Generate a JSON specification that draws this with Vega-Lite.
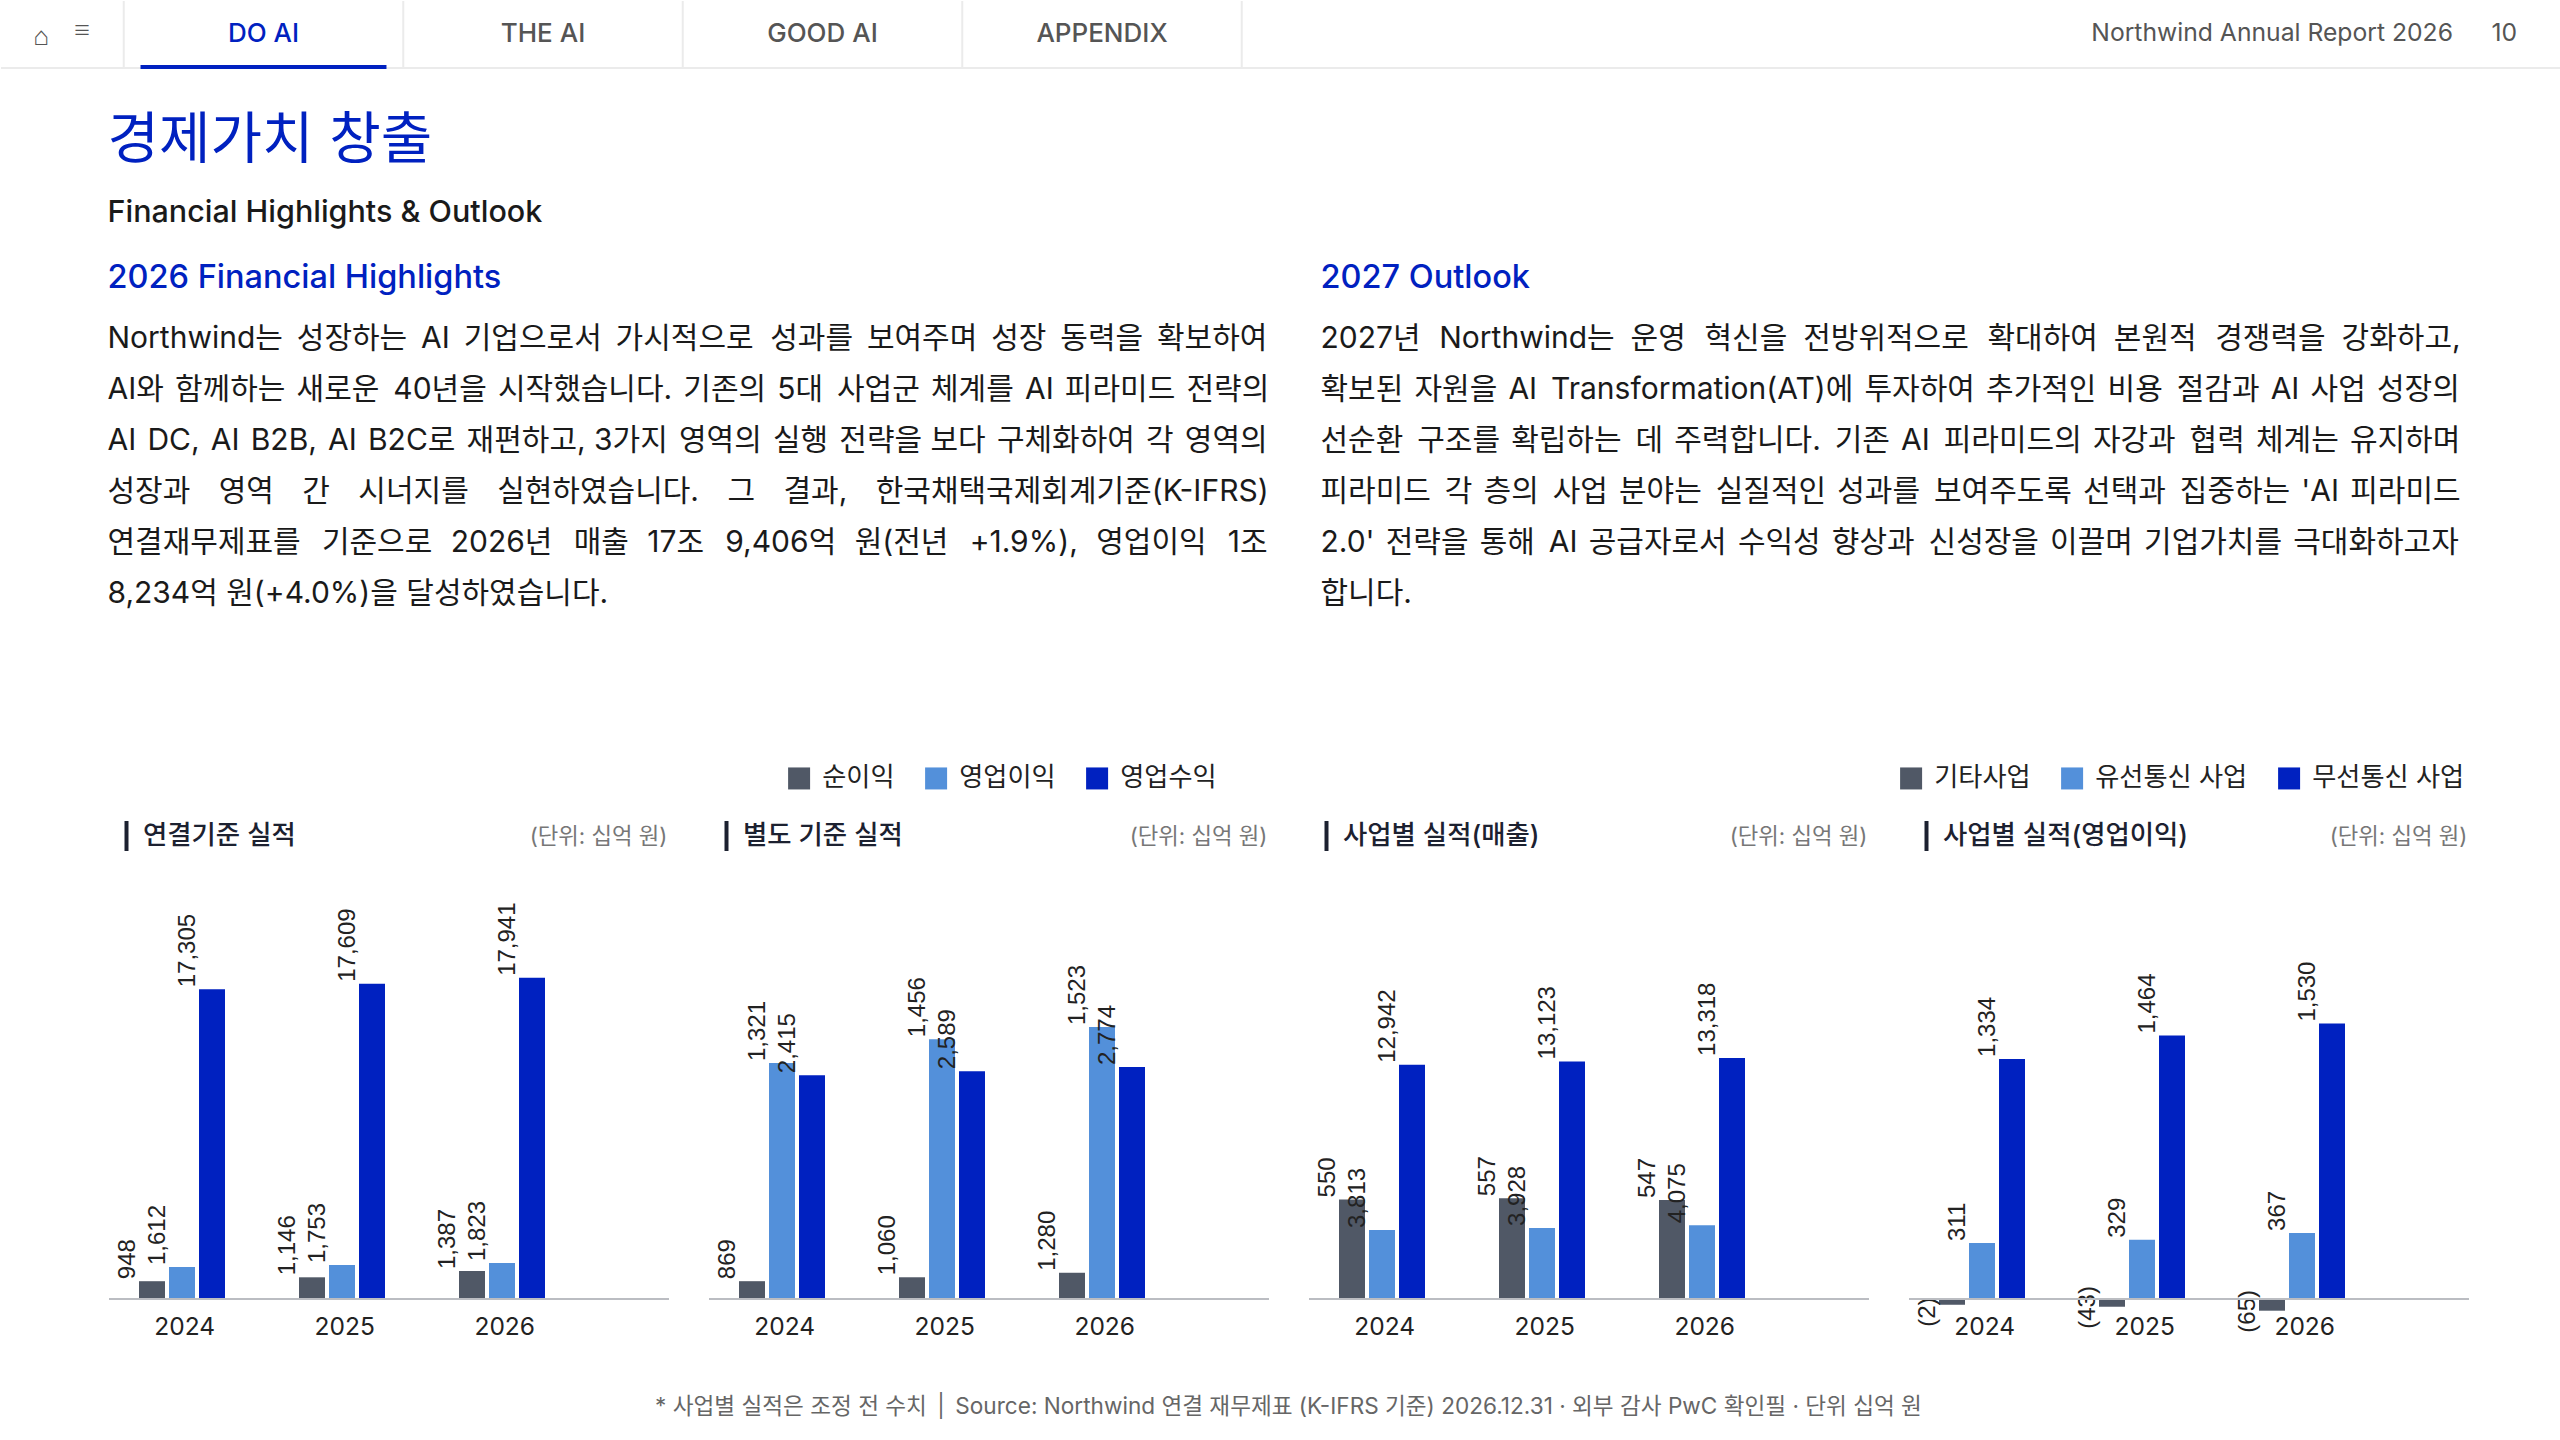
{
"$schema":"https://vega.github.io/schema/vega-lite/v6.json",
"padding":0,"spacing":0,"bounds":"flush","background":"#ffffff",
"config":{"view":{"stroke":null},"font":"Inter, 'Noto Sans CJK KR', sans-serif"},
"vconcat":[
{"width":2560,"height":66,
 "layer":[
  {"data":{"values":[{"edge":0.5},{"edge":1.5},{"edge":2.5},{"edge":3.5},{"edge":4.5}]},
   "mark":{"type":"rule","color":"#ebebeb","strokeWidth":2},
   "encoding":{"x":{"field":"edge","type":"quantitative","scale":{"domain":[0,5],"range":[-17,1380.5]},"axis":null}}},
  {"data":{"values":[{"bar":"nav"}]},
   "mark":{"type":"rule","color":"#ebebeb","strokeWidth":2,"yOffset":1},
   "encoding":{"y":{"datum":0,"type":"quantitative","scale":{"domain":[0,1]},"axis":null}}},
  {"data":{"values":[{"tab":"DO AI"}]},
   "mark":{"type":"rule","color":"#0021C0","strokeWidth":4},
   "encoding":{"x":{"datum":0.56,"type":"quantitative","scale":{"domain":[0,5],"range":[-17,1380.5]},"axis":null},"x2":{"datum":1.44},"y":{"datum":0,"type":"quantitative","scale":{"domain":[0,1]},"axis":null}}},
  {"data":{"values":[{"tab":"DO AI","slot":1},{"tab":"THE AI","slot":2},{"tab":"GOOD AI","slot":3},{"tab":"APPENDIX","slot":4}]},
   "mark":{"type":"text","fontSize":26,"fontWeight":500,"align":"center","baseline":"middle","dy":0},
   "encoding":{"x":{"field":"slot","type":"quantitative","scale":{"domain":[0,5],"range":[-17,1380.5]},"axis":null},"text":{"field":"tab"},
    "color":{"condition":{"test":"datum.slot===1","value":"#0021C0"},"value":"#555555"}}},
  {"data":{"values":[{"item":"home","glyph":"⌂"}]},
   "mark":{"type":"text","fontSize":26,"align":"center","baseline":"middle","color":"#555555","dy":3},
   "encoding":{"x":{"field":"item","type":"nominal","scale":{"type":"point","domain":["home","menu"],"range":[40,81],"padding":0},"axis":null},"text":{"field":"glyph"}}},
  {"data":{"values":[{"item":"menu","glyph":"≡"}]},
   "mark":{"type":"text","fontSize":18,"align":"center","baseline":"middle","color":"#555555","dy":-2},
   "encoding":{"x":{"field":"item","type":"nominal","scale":{"type":"point","domain":["home","menu"],"range":[40,81],"padding":0},"axis":null},"text":{"field":"glyph"}}},
  {"data":{"values":[{"item":"report","text":"Northwind Annual Report 2026"},{"item":"page","text":"10"}]},
   "mark":{"type":"text","fontSize":24.7,"align":"right","baseline":"middle","color":"#555555"},
   "encoding":{"x":{"field":"item","type":"nominal","scale":{"type":"point","domain":["report","page"],"range":[2452,2516],"padding":0},"axis":null},"text":{"field":"text"}}}
 ],
 "resolve":{"scale":{"x":"independent","y":"independent"}}
},
{"width":2560,"height":754,
 "encoding":{"x":{"field":"col","type":"quantitative","scale":{"domain":[0,1],"range":[106.5,1319.5]},"axis":null}},
 "layer":[
  {"data":{"values":[{"role":"title","col":0,"text":"경제가치 창출"},{"role":"sub","col":0,"text":"Financial Highlights & Outlook"},{"role":"head","col":0,"text":"2026 Financial Highlights"},{"role":"head","col":1,"text":"2027 Outlook"}]},
   "encoding":{"y":{"field":"role","type":"nominal","scale":{"type":"point","domain":["title","sub","head"],"range":[91,221],"padding":0},"axis":null},"text":{"field":"text"}},
   "layer":[
    {"transform":[{"filter":"datum.role==='title'"}],"mark":{"type":"text","fontSize":56,"fontWeight":400,"align":"left","baseline":"alphabetic","color":"#0021C0"}},
    {"transform":[{"filter":"datum.role==='sub'"}],"mark":{"type":"text","fontSize":30.5,"fontWeight":500,"align":"left","baseline":"alphabetic","color":"#1a1a1a","dy":-1}},
    {"transform":[{"filter":"datum.role==='head'"}],"mark":{"type":"text","fontSize":32.5,"fontWeight":500,"align":"left","baseline":"alphabetic","color":"#0021C0"}}
   ]},
  {"data":{"values":[
    {"col":0,"line":1,"text":"Northwind는 \u2009성장하는 \u2009AI \u2009기업으로서 \u2009가시적으로 \u2009\u200A성과를 \u2009보여주며 \u2009성장 \u2009동력을 \u2009확보하여"},
    {"col":0,"line":2,"text":"AI와 \u200A함께하는 \u200A새로운 \u200A\u200A40년을 \u200A시작했습니다. \u200A기존의 \u200A5대 \u200A\u200A사업군 \u200A체계를 \u200AAI \u200A피라미드 \u200A전략의"},
    {"col":0,"line":3,"text":"AI \u200ADC, \u200AAI \u200AB2B, \u200AAI \u200AB2C로 \u200A재편하고, 3가지 \u200A영역의 \u200A실행 \u200A전략을 보다 \u200A구체화하여 \u200A각 \u200A영역의"},
    {"col":0,"line":4,"text":"성장과 \u2002\u2006영역 \u2002\u2006간 \u2002\u2006시너지를 \u2002\u2006실현하였습니다. \u2002\u2006그 \u2002\u2006결과, \u2002\u2006한국채택국제회계기준(K-IFRS)"},
    {"col":0,"line":5,"text":"연결재무제표를 \u2004\u200A기준으로 \u20042026년 \u2004\u200A매출 \u200417조 \u2004\u200A9,406억 \u2004원(전년 \u2004\u200A+1.9%), \u2004영업이익 \u2004\u200A1조"},
    {"col":0,"line":6,"text":"8,234억 원(+4.0%)을 달성하였습니다."},
    {"col":1,"line":1,"text":"2027년 \u2005\u200ANorthwind는 \u2005운영 \u2005\u200A혁신을 \u2005전방위적으로 \u2005\u200A확대하여 \u2005본원적 \u2005\u200A경쟁력을 \u2005강화하고,"},
    {"col":1,"line":2,"text":"확보된 \u200A자원을 \u200AAI \u200A\u200ATransformation(AT)에 \u200A투자하여 \u200A추가적인 \u200A비용 \u200A\u200A절감과 \u200AAI \u200A사업 \u200A성장의"},
    {"col":1,"line":3,"text":"선순환 \u200A\u200A구조를 \u200A확립하는 \u200A\u200A데 \u200A주력합니다. \u200A\u200A기존 \u200AAI \u200A\u200A피라미드의 \u200A자강과 \u200A\u200A협력 \u200A체계는 \u200A유지하며"},
    {"col":1,"line":4,"text":"피라미드 \u200A\u200A각 \u200A층의 \u200A\u200A사업 \u200A분야는 \u200A\u200A실질적인 \u200A성과를 \u200A\u200A보여주도록 \u200A선택과 \u200A\u200A집중하는 \u200A'AI \u200A피라미드"},
    {"col":1,"line":5,"text":"2.0' \u200A전략을 \u200A통해 \u200A\u200AAI \u200A공급자로서 \u200A수익성 \u200A향상과 \u200A\u200A신성장을 \u200A이끌며 \u200A기업가치를 \u200A극대화하고자"},
    {"col":1,"line":6,"text":"합니다."}
   ]},
   "mark":{"type":"text","fontSize":30,"align":"left","baseline":"alphabetic","color":"#1a1a1a"},
   "encoding":{"y":{"field":"line","type":"quantitative","scale":{"domain":[1,6],"range":[281,536]},"axis":null},"text":{"field":"text"}}}
 ],
 "resolve":{"scale":{"y":"independent"}}
},
{"width":2560,"height":30,
 "layer":[
  {"data":{"values":[{"panel":0,"title":"연결기준 실적","unit":"(단위: 십억 원)"},{"panel":1,"title":"별도 기준 실적","unit":"(단위: 십억 원)"},{"panel":2,"title":"사업별 실적(매출)","unit":"(단위: 십억 원)"},{"panel":3,"title":"사업별 실적(영업이익)","unit":"(단위: 십억 원)"}]},
   "encoding":{"x":{"field":"panel","type":"quantitative","scale":{"domain":[0,3],"range":[125.5,1925.5]},"axis":null}},
   "layer":[
    {"mark":{"type":"rule","color":"#1c2130","strokeWidth":4}},
    {"mark":{"type":"text","fontSize":26.4,"fontWeight":500,"align":"left","baseline":"middle","dx":16.5,"color":"#1c2130"},"encoding":{"text":{"field":"title"}}},
    {"mark":{"type":"text","fontSize":22.3,"align":"right","baseline":"middle","dx":541,"dy":1,"color":"#777777"},"encoding":{"text":{"field":"unit"}}}
   ]},
  {"data":{"values":[{"note":"* 사업별 실적은 조정 전 수치 \u2009|\u2009 Source: Northwind 연결 재무제표 (K-IFRS 기준) 2026.12.31 · 외부 감사 PwC 확인필 · 단위 십억 원"}]},
   "mark":{"type":"text","fontSize":22.6,"align":"center","baseline":"middle","dx":7.5,"dy":571,"color":"#666666"},
   "encoding":{"text":{"field":"note"}}}
 ]
},
{"spacing":40,"bounds":"flush",
 "resolve":{"scale":{"color":"independent"},"legend":{"color":"independent"}},
 "hconcat":[
 {"width":68,"height":448,"data":{"values":[]},"mark":"text","encoding":{}},
 {"width":560,"height":448,
  "data":{"values":[
   {"year":"2024","series":"순이익","value":994,"label":"948"},{"year":"2024","series":"영업이익","value":1788,"label":"1,612"},{"year":"2024","series":"영업수익","value":17305,"label":"17,305"},
   {"year":"2025","series":"순이익","value":1212,"label":"1,146"},{"year":"2025","series":"영업이익","value":1899,"label":"1,753"},{"year":"2025","series":"영업수익","value":17609,"label":"17,609"},
   {"year":"2026","series":"순이익","value":1564,"label":"1,387"},{"year":"2026","series":"영업이익","value":2011,"label":"1,823"},{"year":"2026","series":"영업수익","value":17941,"label":"17,941"}]},
  "encoding":{"x":{"field":"year","type":"nominal","scale":{"domain":["2024","2025","2026"],"range":[-7,473],"paddingInner":0,"paddingOuter":0},"axis":{"title":null,"domain":false,"ticks":false,"labelAngle":0,"labelFontSize":24.5,"labelColor":"#222222","labelPadding":16,"labelOffset":2.7}},
   "y":{"field":"value","type":"quantitative","scale":{"domain":[0,25028]},"axis":null},
   "text":{"field":"label"},
   "color":{"field":"series","type":"nominal","scale":{"domain":["순이익","영업이익","영업수익"],"range":["#505866","#5390DA","#0021C0"]},"legend":null}},
  "layer":[
   {"transform":[{"filter":"datum.series==='순이익'"}],"mark":{"type":"bar","width":26,"xOffset":-30}},
   {"transform":[{"filter":"datum.series==='영업이익'"}],"mark":{"type":"bar","width":26,"xOffset":0}},
   {"transform":[{"filter":"datum.series==='영업수익'"}],"mark":{"type":"bar","width":26,"xOffset":30}},
   {"transform":[{"filter":"datum.series==='순이익'"}],"mark":{"type":"text","angle":270,"align":"left","baseline":"middle","dx":2,"dy":-54.5,"font":"Liberation Sans","fontSize":24},"encoding":{"color":{"value":"#222222"}}},
   {"transform":[{"filter":"datum.series==='영업이익'"}],"mark":{"type":"text","angle":270,"align":"left","baseline":"middle","dx":2,"dy":-24.5,"font":"Liberation Sans","fontSize":24},"encoding":{"color":{"value":"#222222"}}},
   {"transform":[{"filter":"datum.series==='영업수익'"}],"mark":{"type":"text","angle":270,"align":"left","baseline":"middle","dx":2,"dy":5.5,"font":"Liberation Sans","fontSize":24},"encoding":{"color":{"value":"#222222"}}},
   {"mark":{"type":"rule","color":"#bbbdc2","strokeWidth":2},"encoding":{"x":null,"color":null,"text":null,"y":{"datum":0}}}
  ]},
 {"width":560,"height":448,
  "data":{"values":[
   {"year":"2024","series":"순이익","value":869,"label":"869"},{"year":"2024","series":"영업이익","value":11512,"label":"1,321"},{"year":"2024","series":"영업수익","value":10917,"label":"2,415"},
   {"year":"2025","series":"순이익","value":1060,"label":"1,060"},{"year":"2025","series":"영업이익","value":12673,"label":"1,456"},{"year":"2025","series":"영업수익","value":11112,"label":"2,589"},
   {"year":"2026","series":"순이익","value":1280,"label":"1,280"},{"year":"2026","series":"영업이익","value":13268,"label":"1,523"},{"year":"2026","series":"영업수익","value":11317,"label":"2,774"}]},
  "encoding":{"x":{"field":"year","type":"nominal","scale":{"domain":["2024","2025","2026"],"range":[-7,473],"paddingInner":0,"paddingOuter":0},"axis":{"title":null,"domain":false,"ticks":false,"labelAngle":0,"labelFontSize":24.5,"labelColor":"#222222","labelPadding":16,"labelOffset":2.7}},
   "y":{"field":"value","type":"quantitative","scale":{"domain":[0,21854]},"axis":null},
   "text":{"field":"label"},
   "color":{"field":"series","type":"nominal","scale":{"domain":["순이익","영업이익","영업수익"],"range":["#505866","#5390DA","#0021C0"]},
     "legend":{"orient":"none","legendX":77,"legendY":-86,"direction":"horizontal","columns":3,"title":null,"symbolType":"square","symbolSize":484,"symbolStrokeWidth":0,"labelFontSize":26.2,"labelColor":"#222222","labelOffset":10,"columnPadding":28,"padding":0,"labelLimit":300}}},
  "layer":[
   {"transform":[{"filter":"datum.series==='순이익'"}],"mark":{"type":"bar","width":26,"xOffset":-30}},
   {"transform":[{"filter":"datum.series==='영업이익'"}],"mark":{"type":"bar","width":26,"xOffset":0}},
   {"transform":[{"filter":"datum.series==='영업수익'"}],"mark":{"type":"bar","width":26,"xOffset":30}},
   {"transform":[{"filter":"datum.series==='순이익'"}],"mark":{"type":"text","angle":270,"align":"left","baseline":"middle","dx":2,"dy":-54.5,"font":"Liberation Sans","fontSize":24},"encoding":{"color":{"value":"#222222"}}},
   {"transform":[{"filter":"datum.series==='영업이익'"}],"mark":{"type":"text","angle":270,"align":"left","baseline":"middle","dx":2,"dy":-24.5,"font":"Liberation Sans","fontSize":24},"encoding":{"color":{"value":"#222222"}}},
   {"transform":[{"filter":"datum.series==='영업수익'"}],"mark":{"type":"text","angle":270,"align":"left","baseline":"middle","dx":2,"dy":5.5,"font":"Liberation Sans","fontSize":24},"encoding":{"color":{"value":"#222222"}}},
   {"mark":{"type":"rule","color":"#bbbdc2","strokeWidth":2},"encoding":{"x":null,"color":null,"text":null,"y":{"datum":0}}}
  ]},
 {"width":560,"height":448,
  "data":{"values":[
   {"year":"2024","series":"기타사업","value":5500,"label":"550"},{"year":"2024","series":"유선통신 사업","value":3813,"label":"3,813"},{"year":"2024","series":"무선통신 사업","value":12942,"label":"12,942"},
   {"year":"2025","series":"기타사업","value":5570,"label":"557"},{"year":"2025","series":"유선통신 사업","value":3928,"label":"3,928"},{"year":"2025","series":"무선통신 사업","value":13123,"label":"13,123"},
   {"year":"2026","series":"기타사업","value":5470,"label":"547"},{"year":"2026","series":"유선통신 사업","value":4075,"label":"4,075"},{"year":"2026","series":"무선통신 사업","value":13318,"label":"13,318"}]},
  "encoding":{"x":{"field":"year","type":"nominal","scale":{"domain":["2024","2025","2026"],"range":[-7,473],"paddingInner":0,"paddingOuter":0},"axis":{"title":null,"domain":false,"ticks":false,"labelAngle":0,"labelFontSize":24.5,"labelColor":"#222222","labelPadding":16,"labelOffset":2.7}},
   "y":{"field":"value","type":"quantitative","scale":{"domain":[0,24751]},"axis":null},
   "text":{"field":"label"},
   "color":{"field":"series","type":"nominal","scale":{"domain":["기타사업","유선통신 사업","무선통신 사업"],"range":["#505866","#5390DA","#0021C0"]},"legend":null}},
  "layer":[
   {"transform":[{"filter":"datum.series==='기타사업'"}],"mark":{"type":"bar","width":26,"xOffset":-30}},
   {"transform":[{"filter":"datum.series==='유선통신 사업'"}],"mark":{"type":"bar","width":26,"xOffset":0}},
   {"transform":[{"filter":"datum.series==='무선통신 사업'"}],"mark":{"type":"bar","width":26,"xOffset":30}},
   {"transform":[{"filter":"datum.series==='기타사업'"}],"mark":{"type":"text","angle":270,"align":"left","baseline":"middle","dx":2,"dy":-54.5,"font":"Liberation Sans","fontSize":24},"encoding":{"color":{"value":"#222222"}}},
   {"transform":[{"filter":"datum.series==='유선통신 사업'"}],"mark":{"type":"text","angle":270,"align":"left","baseline":"middle","dx":2,"dy":-24.5,"font":"Liberation Sans","fontSize":24},"encoding":{"color":{"value":"#222222"}}},
   {"transform":[{"filter":"datum.series==='무선통신 사업'"}],"mark":{"type":"text","angle":270,"align":"left","baseline":"middle","dx":2,"dy":5.5,"font":"Liberation Sans","fontSize":24},"encoding":{"color":{"value":"#222222"}}},
   {"mark":{"type":"rule","color":"#bbbdc2","strokeWidth":2},"encoding":{"x":null,"color":null,"text":null,"y":{"datum":0}}}
  ]},
 {"width":560,"height":448,
  "data":{"values":[
   {"year":"2024","series":"기타사업","value":-32,"label":"(2)"},{"year":"2024","series":"유선통신 사업","value":311,"label":"311"},{"year":"2024","series":"무선통신 사업","value":1334,"label":"1,334"},
   {"year":"2025","series":"기타사업","value":-43,"label":"(43)"},{"year":"2025","series":"유선통신 사업","value":329,"label":"329"},{"year":"2025","series":"무선통신 사업","value":1464,"label":"1,464"},
   {"year":"2026","series":"기타사업","value":-65,"label":"(65)"},{"year":"2026","series":"유선통신 사업","value":367,"label":"367"},{"year":"2026","series":"무선통신 사업","value":1530,"label":"1,530"}]},
  "encoding":{"x":{"field":"year","type":"nominal","scale":{"domain":["2024","2025","2026"],"range":[-7,473],"paddingInner":0,"paddingOuter":0},"axis":{"title":null,"domain":false,"ticks":false,"labelAngle":0,"labelFontSize":24.5,"labelColor":"#222222","labelPadding":16,"labelOffset":2.7}},
   "y":{"field":"value","type":"quantitative","scale":{"domain":[0,2489]},"axis":null},
   "text":{"field":"label"},
   "color":{"field":"series","type":"nominal","scale":{"domain":["기타사업","유선통신 사업","무선통신 사업"],"range":["#505866","#5390DA","#0021C0"]},
     "legend":{"orient":"none","legendX":-11,"legendY":-86,"direction":"horizontal","columns":3,"title":null,"symbolType":"square","symbolSize":484,"symbolStrokeWidth":0,"labelFontSize":26.2,"labelColor":"#222222","labelOffset":10,"columnPadding":28,"padding":0,"labelLimit":300}}},
  "layer":[
   {"transform":[{"filter":"datum.series==='기타사업'"}],"mark":{"type":"bar","width":26,"xOffset":-30}},
   {"transform":[{"filter":"datum.series==='유선통신 사업'"}],"mark":{"type":"bar","width":26,"xOffset":0}},
   {"transform":[{"filter":"datum.series==='무선통신 사업'"}],"mark":{"type":"bar","width":26,"xOffset":30}},
   {"transform":[{"filter":"datum.series==='기타사업'"}],"mark":{"type":"text","angle":270,"align":"left","baseline":"middle","dx":-22,"dy":-54.5,"font":"Liberation Sans","fontSize":24},"encoding":{"color":{"value":"#222222"}}},
   {"transform":[{"filter":"datum.series==='유선통신 사업'"}],"mark":{"type":"text","angle":270,"align":"left","baseline":"middle","dx":2,"dy":-24.5,"font":"Liberation Sans","fontSize":24},"encoding":{"color":{"value":"#222222"}}},
   {"transform":[{"filter":"datum.series==='무선통신 사업'"}],"mark":{"type":"text","angle":270,"align":"left","baseline":"middle","dx":2,"dy":5.5,"font":"Liberation Sans","fontSize":24},"encoding":{"color":{"value":"#222222"}}},
   {"mark":{"type":"rule","color":"#bbbdc2","strokeWidth":2},"encoding":{"x":null,"color":null,"text":null,"y":{"datum":0}}}
  ]}
 ]}
]
}
